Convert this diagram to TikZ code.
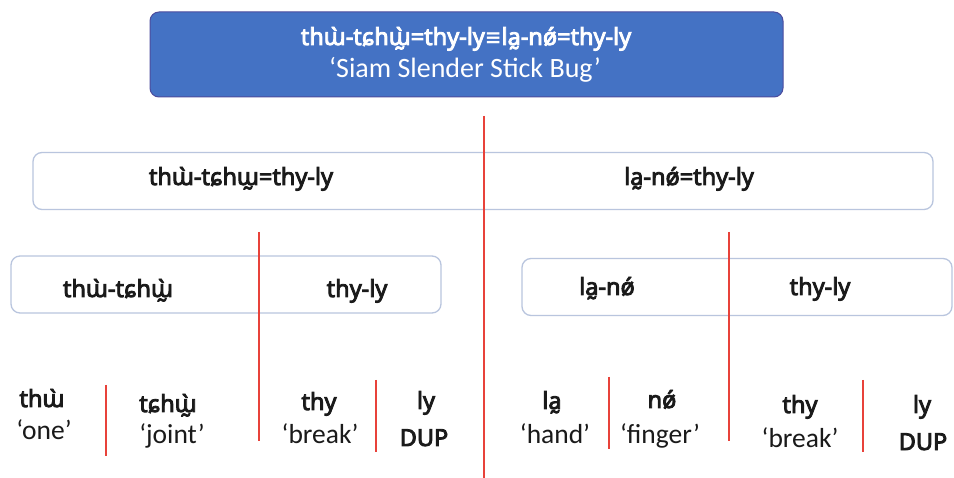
\documentclass[tikz,border=0pt]{standalone}
\usepackage{fontspec}
\setmainfont{Carlito}
\newfontfamily\ipafont{Noto Sans}[AutoFakeBold=3.6]
\newfontfamily\symfont{DejaVu Sans}
\begin{document}
\begin{tikzpicture}[x=1pt,y=-1pt,
  topbox/.style={draw=blue!45!black!70, line width=1pt, fill=topblue, rounded corners=9pt, minimum width=633pt, minimum height=85pt, inner sep=0pt},
  lvlbox/.style={draw=boxedge, line width=1.3pt, fill=white, rounded corners=9pt, minimum height=57pt, inner sep=0pt},
  bw/.style={font=\ipafont\bfseries\fontsize{23.5}{28}\selectfont, text=txt, anchor=base, inner sep=0pt},
  rw/.style={font=\fontsize{27.5}{32}\selectfont, text=txt, anchor=base, inner sep=0pt},
  wb/.style={font=\ipafont\bfseries\fontsize{23.5}{28}\selectfont, text=white, anchor=base, inner sep=0pt},
  wr/.style={font=\fontsize{28}{32}\selectfont, text=white, anchor=base, inner sep=0pt},
  sep/.style={draw=sepred, line width=2.8pt}
]
\definecolor{topblue}{HTML}{4472C4}
\definecolor{boxedge}{HTML}{B9C5DE}
\definecolor{txt}{HTML}{1A1A1A}
\definecolor{sepred}{HTML}{E8423A}
\useasboundingbox (0,0) rectangle (954,478);
\fill[white] (0,0) rectangle (954,478);

% boxes
\node[topbox] (top) at (466.5,54.5) {};
\node[lvlbox, minimum width=900pt] (mid) at (483,181) {};
\node[lvlbox, minimum width=430pt] (lbox) at (226,284.5) {};
\node[lvlbox, minimum width=430pt] (rbox) at (737,287) {};

% top texts
\node[wb] (t1) at (466,45) {thɯ̀-tɕhɯ̰̀=thy-ly{\symfont\bfseries\fontsize{20}{24}\selectfont ≡}la̰-nǿ=thy-ly};
\node[wr] (t2) at (465,78) {‘Siam Slender Stick Bug’};

% level 2
\node[bw] (m1) at (241,185) {thɯ̀-tɕhɯ̰=thy-ly};
\node[bw] (m2) at (689,185) {la̰-nǿ=thy-ly};

% level 3
\node[bw] (l1) at (118,297) {thɯ̀-tɕhɯ̰̀};
\node[bw] (l2) at (357,297) {thy-ly};
\node[bw] (r1) at (607,295) {la̰-nǿ};
\node[bw] (r2) at (820,295) {thy-ly};

% bottom words
\node[bw] (w1) at (42,407) {thɯ̀};
\node[rw] (g1) at (44,440) {‘one’};
\node[bw] (w2) at (168,412) {tɕhɯ̰̀};
\node[rw] (g2) at (172,444) {‘joint’};
\node[bw] (w3) at (319,410) {thy};
\node[rw] (g3) at (320,443) {‘break’};
\node[bw] (w4) at (426,409) {ly};
\node[bw] (g4) at (424,446) {DUP};
\node[bw] (w5) at (552,409) {la̰};
\node[rw] (g5) at (555,444) {‘hand’};
\node[bw] (w6) at (662,408) {nǿ};
\node[rw] (g6) at (660,443) {‘finger’};
\node[bw] (w7) at (800,413) {thy};
\node[rw] (g7) at (800,447) {‘break’};
\node[bw] (w8) at (922,413) {ly};
\node[bw] (g8) at (923,450) {DUP};

% separators
\coordinate (c0a) at (484,116); \coordinate (c0b) at (484,478);
\coordinate (c1a) at (259,232); \coordinate (c1b) at (259,441);
\coordinate (c2a) at (729,232); \coordinate (c2b) at (729,441);
\coordinate (s1a) at (106,385); \coordinate (s1b) at (106,456);
\coordinate (s2a) at (376,380); \coordinate (s2b) at (376,452);
\coordinate (s3a) at (609,377); \coordinate (s3b) at (609,449);
\coordinate (s4a) at (863,380); \coordinate (s4b) at (863,452);
\draw[sep] (c0a) -- (c0b);
\draw[sep] (c1a) -- (c1b);
\draw[sep] (c2a) -- (c2b);
\draw[sep] (s1a) -- (s1b);
\draw[sep] (s2a) -- (s2b);
\draw[sep] (s3a) -- (s3b);
\draw[sep] (s4a) -- (s4b);
\end{tikzpicture}
\end{document}
